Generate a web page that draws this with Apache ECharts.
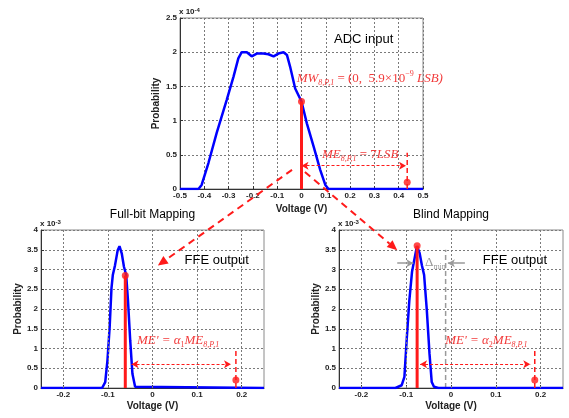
<!DOCTYPE html>
<html><head><meta charset="utf-8">
<script src="https://cdn.jsdelivr.net/npm/echarts@6/dist/echarts.min.js"></script>
<style>html,body{margin:0;padding:0;background:#fff}#c{width:569px;height:418px}</style>
</head><body><div id="c"></div>
<script>
// ---------- data ----------
const adcVoltage = [-0.5, -0.424, -0.411, -0.383, -0.349, -0.308, -0.280, -0.260, -0.246, -0.225, -0.205, -0.184, -0.157, -0.136, -0.115, -0.095, -0.074, -0.060, -0.047, -0.026, 0, 0.022, 0.05, 0.077, 0.098, 0.111, 0.5];
const adcProb    = [0, 0, 0.06, 0.38, 0.82, 1.30, 1.64, 1.91, 2.0, 2.0, 1.94, 1.98, 1.98, 1.97, 1.94, 1.98, 2.0, 1.96, 1.79, 1.47, 1.28, 0.96, 0.62, 0.28, 0.06, 0, 0];
const fullVoltage = [-0.25, -0.113, -0.106, -0.101, -0.096, -0.092, -0.089, -0.084, -0.078, -0.074, -0.069, -0.064, -0.059, -0.055, -0.050, -0.045, -0.039, -0.036, 0.25];
const fullProb    = [0, 0, 0.15, 0.70, 1.55, 2.52, 2.86, 3.11, 3.49, 3.59, 3.41, 3.07, 2.86, 2.22, 1.21, 0.36, 0.03, 0, 0];
const blindVoltage = [-0.25, -0.124, -0.110, -0.104, -0.099, -0.093, -0.087, -0.082, -0.076, -0.070, -0.065, -0.060, -0.054, -0.048, -0.043, -0.038, -0.028, 0.25];
const blindProb    = [0, 0, 0.07, 0.28, 1.21, 2.22, 2.94, 3.24, 3.59, 3.41, 3.11, 2.86, 1.97, 0.87, 0.15, 0.03, 0, 0];

const bottomXTicks = [-0.2, -0.1, 0, 0.1, 0.2];
const topXRange = [-0.5, 0.5];
const bottomXRange = [-0.25, 0.25];
const topYMax = 2.5;
const bottomYMax = 4;
const topExponent = '-4';
const bottomExponent = '-3';

// stems [x, y]
const adcStem = [0, 1.28];
const fullStem = [-0.061, 2.85];
const blindStem = [-0.0756, 3.6];
// targets [x, markerY, dashTopY]
const adcTarget = [0.435, 0.1, 0.53];
const fullTarget = [0.187, 0.2, 1.0];
const blindTarget = [0.187, 0.2, 1.0];
// double arrows [fromX, toX, y]
const adcArrow = [0, 0.43, 0.34];
const fullArrow = [-0.047, 0.176, 0.6];
const blindArrow = [-0.069, 0.177, 0.6];
// blind mapping gray reference [x, topY]
const blindRef = [-0.012, 3.5];
// gray delta arrows [fromX, toX, y]
const deltaLeft = [-0.12, -0.084, 3.16];
const deltaRight = [0.031, -0.007, 3.16];
// cross-plot arrows: [fromGrid, fromX, fromY, toGrid, toX, toY]
const crossArrows = [[0, -0.039, 0.28, 1, 0.012, 3.1], [0, 0.014, 0.25, 2, -0.12, 3.49]];

// ---------- style ----------
const RED = '#ff1a1a', BLUE = '#0000ff', GRAYA = '#9a9a9a';
const MATHRED = '#f23a3a';
const sans = 'Liberation Sans, Arial, sans-serif';
const serif = 'Liberation Serif, Times New Roman, serif';

const grids = [
  {left: 180, top: 18, width: 243, height: 171},
  {left: 41, top: 230, width: 223, height: 158},
  {left: 339, top: 230, width: 224, height: 158}
].map(g => Object.assign(g, {show: true, borderColor: '#8a8a8a', borderWidth: 1, containLabel: false}));

function xAxisFor(i) {
  const top = i === 0;
  const ax = {
    type: 'value', gridIndex: i,
    min: top ? topXRange[0] : bottomXRange[0], max: top ? topXRange[1] : bottomXRange[1],
    name: 'Voltage (V)', nameLocation: 'middle', nameGap: top ? 15 : 13,
    nameTextStyle: {fontFamily: sans, fontWeight: 'bold', fontSize: 10, color: '#222'},
    axisLine: {show: true, onZero: false, lineStyle: {color: '#333', width: 1}},
    axisTick: {show: true, inside: true, length: 3, lineStyle: {color: '#333'}},
    axisLabel: {fontFamily: sans, fontWeight: 'bold', fontSize: 8, color: '#222', margin: 3},
    splitLine: {show: top, lineStyle: {type: [2, 2], color: '#7a7a7a', width: 1}}
  };
  if (top) { ax.interval = 0.1; }
  else {
    ax.axisLabel.customValues = bottomXTicks;
    ax.axisTick.customValues = bottomXTicks;
  }
  return ax;
}
function yAxisFor(i) {
  const top = i === 0;
  return {
    type: 'value', gridIndex: i, min: 0, max: top ? topYMax : bottomYMax, interval: 0.5,
    name: 'Probability', nameLocation: 'middle', nameGap: top ? 19 : 17, nameRotate: 90,
    nameTextStyle: {fontFamily: sans, fontWeight: 'bold', fontSize: 10, color: '#222'},
    axisLine: {show: true, onZero: false, lineStyle: {color: '#333', width: 1}},
    axisTick: {show: true, inside: true, length: 3, lineStyle: {color: '#333'}},
    axisLabel: {fontFamily: sans, fontWeight: 'bold', fontSize: 8, color: '#222', margin: 3},
    splitLine: {show: true, lineStyle: {type: [2, 2], color: '#7a7a7a', width: 1}}
  };
}

const curves = [[adcVoltage, adcProb], [fullVoltage, fullProb], [blindVoltage, blindProb]];
const stems = [adcStem, fullStem, blindStem];
const targets = [adcTarget, fullTarget, blindTarget];
const arrows = [adcArrow, fullArrow, blindArrow];

const series = [];
for (let i = 0; i < 3; i++) {
  const [vx, vy] = curves[i];
  if (i > 0) {
    series.push({
      type: 'line', xAxisIndex: i, yAxisIndex: i, data: [], silent: true, z: 1,
      markLine: {silent: true, symbol: ['none', 'none'], label: {show: false},
        lineStyle: {type: [2, 2], color: '#7a7a7a', width: 1},
        data: bottomXTicks.map(v => ({xAxis: v}))}
    });
  }
  series.push({
    type: 'line', xAxisIndex: i, yAxisIndex: i, z: 4,
    data: vx.map((x, k) => [x, vy[k]]), showSymbol: false,
    lineStyle: {color: BLUE, width: 2.5}
  });
  const s = stems[i], t = targets[i], a = arrows[i];
  series.push({
    type: 'line', xAxisIndex: i, yAxisIndex: i, z: 5, showSymbol: false,
    data: [[s[0], 0], [s[0], s[1]]], lineStyle: {color: RED, width: 3}
  });
  series.push({
    type: 'line', xAxisIndex: i, yAxisIndex: i, z: 5, showSymbol: false,
    data: [[t[0], 0], [t[0], t[2]]], lineStyle: {color: RED, width: 1.5, type: [5, 3]},
    markLine: {silent: true, symbol: ['arrow', 'arrow'], symbolSize: [6, 7], label: {show: false},
      lineStyle: {color: RED, width: 1.2, type: [3, 2]},
      data: [[{coord: [a[0], a[2]]}, {coord: [a[1], a[2]]}]]}
  });
  series.push({
    type: 'scatter', xAxisIndex: i, yAxisIndex: i, z: 6, symbolSize: 7,
    itemStyle: {color: RED}, data: [[s[0], s[1]], [t[0], t[1]]]
  });
}
series.push({
  type: 'line', xAxisIndex: 2, yAxisIndex: 2, z: 3, showSymbol: false,
  data: [[blindRef[0], 0], [blindRef[0], blindRef[1]]], lineStyle: {color: GRAYA, width: 1.5, type: [5, 3]},
  markLine: {silent: true, symbol: ['none', 'arrow'], symbolSize: [6, 7], label: {show: false},
    lineStyle: {color: GRAYA, width: 1.5, type: 'solid'},
    data: [[{coord: [deltaLeft[0], deltaLeft[2]]}, {coord: [deltaLeft[1], deltaLeft[2]]}],
           [{coord: [deltaRight[0], deltaRight[2]]}, {coord: [deltaRight[1], deltaRight[2]]}]]}
});

const option = {
  animation: false,
  backgroundColor: '#fff',
  grid: grids,
  xAxis: [0, 1, 2].map(xAxisFor),
  yAxis: [0, 1, 2].map(yAxisFor),
  series
};
const chart = echarts.init(document.getElementById('c'), null, {renderer: 'canvas'});
chart.setOption(option);

// ---------- annotations ----------
const mathRich = {
  i: {fontFamily: serif, fontStyle: 'italic', fontSize: 13, fill: MATHRED, lineHeight: 17},
  r: {fontFamily: serif, fontSize: 13, fill: MATHRED, lineHeight: 17},
  s: {fontFamily: serif, fontSize: 8, fill: MATHRED, lineHeight: 8, verticalAlign: 'bottom'},
  si: {fontFamily: serif, fontStyle: 'italic', fontSize: 8, fill: MATHRED, lineHeight: 8, verticalAlign: 'bottom'},
  p: {fontFamily: serif, fontSize: 8, fill: MATHRED, lineHeight: 8, verticalAlign: 'top'},
  g: {fontFamily: serif, fontSize: 13, fill: GRAYA, lineHeight: 17},
  gs: {fontFamily: serif, fontSize: 8, fill: GRAYA, lineHeight: 8, verticalAlign: 'bottom'}
};
const annotations = [
  [0, -0.02, 1.61, '{i|MW}{si|8,P,1}{r| = (0,  5.9×10}{p|−9}{i| LSB)}'],
  [0, 0.084, 0.50, '{i|ME}{si|8,P,1}{r| = 7}{i|LSB}'],
  [1, -0.035, 1.21, "{i|ME' = α}{s|1}{i|ME}{si|8,P,1}"],
  [2, -0.013, 1.21, "{i|ME' = α}{s|2}{i|ME}{si|8,P,1}"],
  [2, -0.058, 3.18, '{g|Δ}{gs|min}']
];
const plainLabels = [
  [0, 0.134, 2.18, 'ADC input'],
  [1, 0.072, 3.23, 'FFE output'],
  [2, 0.071, 3.23, 'FFE output']
];
const titles = [[1, 'Full-bit Mapping'], [2, 'Blind Mapping']];

const gfx = [];
function px(g, x, y) { return chart.convertToPixel({gridIndex: g}, [x, y]); }
annotations.forEach(([g, x, y, t]) => {
  const p = px(g, x, y);
  gfx.push({type: 'text', x: p[0], y: p[1], z: 20,
    style: {text: t, rich: mathRich, fill: MATHRED, textAlign: 'left', verticalAlign: 'middle'}});
});
plainLabels.forEach(([g, x, y, t]) => {
  const p = px(g, x, y);
  gfx.push({type: 'text', x: p[0], y: p[1], z: 20,
    style: {text: t, fontFamily: sans, fontSize: 13, fill: '#000', textAlign: 'left', verticalAlign: 'middle'}});
});
titles.forEach(([g, t]) => {
  const gr = grids[g];
  gfx.push({type: 'text', x: gr.left + gr.width / 2, y: gr.top - 15, z: 20,
    style: {text: t, fontFamily: sans, fontSize: 12, fill: '#000', textAlign: 'center', verticalAlign: 'middle'}});
});
[[0, topExponent], [1, bottomExponent], [2, bottomExponent]].forEach(([g, e]) => {
  const gr = grids[g];
  gfx.push({type: 'text', x: gr.left - 1, y: gr.top - 6, z: 20,
    style: {text: '{a|x 10}{b|' + e + '}', textAlign: 'left', verticalAlign: 'middle',
      rich: {a: {fontFamily: sans, fontWeight: 'bold', fontSize: 8, fill: '#222', lineHeight: 10},
             b: {fontFamily: sans, fontWeight: 'bold', fontSize: 6, fill: '#222', lineHeight: 6, verticalAlign: 'top'}}}});
});
crossArrows.forEach(([g1, x1, y1, g2, x2, y2]) => {
  const a = px(g1, x1, y1), b = px(g2, x2, y2);
  const dx = b[0] - a[0], dy = b[1] - a[1], L = Math.hypot(dx, dy), ux = dx / L, uy = dy / L;
  const hl = 10, hw = 4.5;
  const base = [b[0] - ux * hl, b[1] - uy * hl];
  gfx.push({type: 'line', z: 15, shape: {x1: a[0], y1: a[1], x2: base[0], y2: base[1]},
    style: {stroke: RED, lineWidth: 2, lineDash: [7, 5]}});
  gfx.push({type: 'polygon', z: 15, shape: {points: [b, [base[0] - uy * hw, base[1] + ux * hw], [base[0] + uy * hw, base[1] - ux * hw]]},
    style: {fill: RED}});
});
chart.setOption({graphic: gfx});
</script>
</body></html>
